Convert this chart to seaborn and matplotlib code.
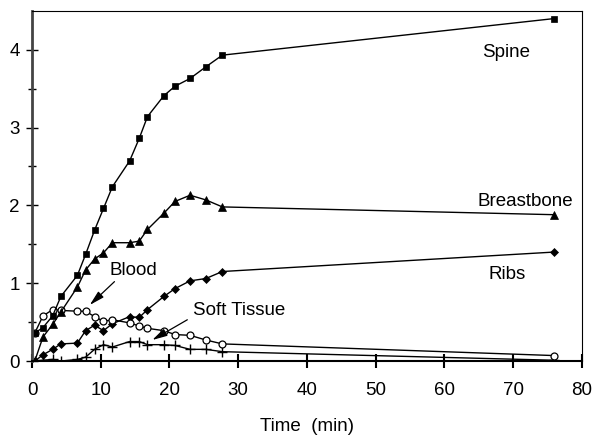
import numpy as np
import pandas as pd
import matplotlib
matplotlib.use("Agg")
import matplotlib.pyplot as plt
import seaborn as sns

# ── DATA ──────────────────────────────────────────────────────────────────────
time_min = [0.4, 1.6, 3.0, 4.2, 6.6, 7.8, 9.1, 10.4, 11.7, 14.2, 15.6, 16.8,
            19.2, 20.8, 23.0, 25.3, 27.7, 76.0]

spine      = [0.36, 0.43, 0.58, 0.83, 1.10, 1.37, 1.68, 1.96, 2.24, 2.57, 2.86, 3.14,
              3.41, 3.53, 3.63, 3.78, 3.93, 4.40]
breastbone = [0.00, 0.31, 0.47, 0.63, 0.95, 1.17, 1.31, 1.39, 1.52, 1.52, 1.54, 1.69,
              1.90, 2.05, 2.13, 2.07, 1.98, 1.88]
ribs       = [0.00, 0.08, 0.15, 0.22, 0.23, 0.39, 0.46, 0.39, 0.48, 0.57, 0.56, 0.66,
              0.83, 0.93, 1.03, 1.06, 1.15, 1.40]
blood      = [0.36, 0.58, 0.66, 0.65, 0.64, 0.64, 0.57, 0.51, 0.53, 0.49, 0.45, 0.42,
              0.39, 0.34, 0.33, 0.27, 0.22, 0.07]
soft       = [0.00, 0.01, 0.02, 0.00, 0.02, 0.05, 0.15, 0.21, 0.18, 0.25, 0.25, 0.21,
              0.21, 0.20, 0.15, 0.15, 0.12, 0.01]

x_ticks = [0, 10, 20, 30, 40, 50, 60, 70, 80]
y_ticks = [0, 1, 2, 3, 4]

df = pd.DataFrame({"time": time_min, "Spine": spine, "Breastbone": breastbone,
                   "Ribs": ribs, "Blood": blood, "Soft Tissue": soft})

# ── PLOT ──────────────────────────────────────────────────────────────────────
sns.set_style("ticks", {"text.color": "black", "axes.labelcolor": "black",
                        "xtick.color": "black", "ytick.color": "black"})
plt.rcParams["font.family"] = ["Liberation Sans", "DejaVu Sans"]

fig = plt.figure(figsize=(5.93, 4.40), dpi=100)
ax = fig.add_axes([0.054, 0.1795, 0.927, 0.796])

styles = {
    "Soft Tissue": dict(marker="+", ms=6.5, mfc="black", mew=1.0),
    "Ribs":        dict(marker="D", ms=4, mfc="black", mew=0.5),
    "Blood":       dict(marker="o", ms=5, mfc="white", mew=0.9),
    "Breastbone":  dict(marker="^", ms=6, mfc="black", mew=0.5),
    "Spine":       dict(marker="s", ms=5, mfc="black", mew=0.5),
}
for name, st in styles.items():
    sns.lineplot(data=df, x="time", y=name, color="black", linewidth=1.0,
                 mec="black", ax=ax, **st)

ax.set_xlim(0, 80)
ax.set_ylim(0, 4.5)
ax.set_xticks(x_ticks)
ax.set_yticks(y_ticks)
ax.set_yticks(np.arange(0.5, 4.5, 1.0), minor=True)
ax.tick_params(axis="both", which="major", direction="inout", length=8, width=1,
               labelsize=13.5, colors="black")
ax.tick_params(axis="x", which="major", pad=10, bottom=True, length=10, width=1.5)
ax.tick_params(axis="y", which="major", pad=5, left=True)
ax.tick_params(axis="y", which="minor", direction="inout", length=6, width=1,
               color="black", left=True)
ax.set_xlabel("Time  (min)", fontsize=13.5, labelpad=14, color="black")
ax.set_ylabel("")

for side in ["top", "right"]:
    ax.spines[side].set_visible(True)
    ax.spines[side].set_linewidth(0.8)
    ax.spines[side].set_color("black")
ax.spines["left"].set_linewidth(2.0)
ax.spines["left"].set_color("#444444")
ax.spines["bottom"].set_linewidth(1.5)
ax.spines["bottom"].set_color("black")

# series labels
ax.text(69.0, 3.90, "Spine", fontsize=13.5, ha="center", va="baseline")
ax.text(71.8, 1.99, "Breastbone", fontsize=13.5, ha="center", va="baseline")
ax.text(69.2, 1.06, "Ribs", fontsize=13.5, ha="center", va="baseline")
ax.text(14.7, 1.10, "Blood", fontsize=13.5, ha="center", va="baseline")
ax.text(30.1, 0.59, "Soft Tissue", fontsize=13.5, ha="center", va="baseline")

arrow = dict(arrowstyle="-|>,head_length=0.5,head_width=0.13", color="black",
             lw=0.9, mutation_scale=18, shrinkA=0, shrinkB=0)
ax.annotate("", xy=(8.4, 0.72), xytext=(12.0, 1.02), arrowprops=arrow)
ax.annotate("", xy=(17.5, 0.27), xytext=(22.6, 0.53), arrowprops=arrow)

plt.savefig("out.png", dpi=100)
